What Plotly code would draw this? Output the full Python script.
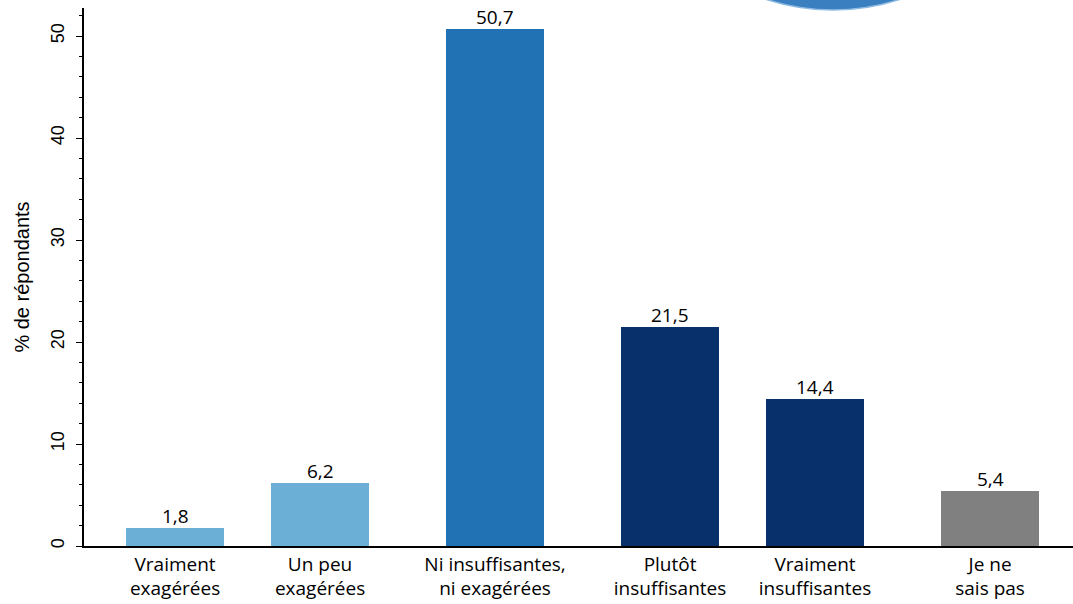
import plotly.graph_objects as go

categories = ["Vraiment<br>exagérées", "Un peu<br>exagérées", "Ni insuffisantes,<br>ni exagérées",
              "Plutôt<br>insuffisantes", "Vraiment<br>insuffisantes", "Je ne<br>sais pas"]
values = [1.8, 6.2, 50.7, 21.5, 14.4, 5.4]
labels = ["1,8", "6,2", "50,7", "21,5", "14,4", "5,4"]
positions = [0, 1, 2.207, 3.414, 4.414, 5.621]
colors = ["#6baed6", "#6baed6", "#2171b5", "#08306b", "#08306b", "#808080"]

fig = go.Figure()
fig.add_trace(go.Bar(
    x=positions, y=values, width=0.676,
    marker=dict(color=colors, line=dict(width=0)),
    hoverinfo="skip",
))

for xp, v, lab in zip(positions, values, labels):
    fig.add_annotation(x=xp, y=v, text=lab, showarrow=False, yanchor="bottom",
                       yshift=-3, font=dict(family="Open Sans, sans-serif", size=19, color="#000000"))

fig.add_shape(type="circle", xref="paper", yref="paper",
              x0=(833 - 216 - 84) / 989, x1=(833 + 216 - 84) / 989,
              y0=(546 - (-206 + 216)) / 538, y1=(546 - (-206 - 216)) / 538,
              fillcolor="#3a7fc0", line=dict(width=1.5, color="#8dbbe3"), layer="below")

fig.update_layout(
    width=1073, height=604,
    margin=dict(l=84, r=0, t=8, b=58),
    plot_bgcolor="white", paper_bgcolor="white",
    showlegend=False,
    bargap=0,
    font=dict(family="Liberation Sans, Arial, sans-serif", color="#000000"),
)
fig.update_xaxes(
    range=[-0.628, 6.193], tickvals=positions, ticktext=categories,
    tickfont=dict(family="Open Sans, sans-serif", size=19, color="#000000"),
    showline=True, linecolor="#000000", linewidth=1.5, showgrid=False, ticks="",
    zeroline=False,
)
fig.update_yaxes(
    range=[0, 52.75], tickvals=[0, 10, 20, 30, 40, 50], tickangle=-90,
    tickfont=dict(family="Liberation Sans, Arial, sans-serif", size=18, color="#000000"),
    showline=True, linecolor="#000000", linewidth=2, showgrid=False,
    ticks="outside", ticklen=6, tickcolor="#000000", tickwidth=1,
    ticklabelstandoff=5,
    minor=dict(dtick=2, ticks="outside", ticklen=3, tickcolor="#000000", tickwidth=1),
    zeroline=False,
    title=dict(text="% de répondants", font=dict(size=20, family="Liberation Sans, Arial, sans-serif"), standoff=13),
)
fig.write_html("out.html", config={"displayModeBar": False},
               post_script="document.body.style.margin='0';document.body.style.padding='0';document.body.style.overflow='hidden';")
